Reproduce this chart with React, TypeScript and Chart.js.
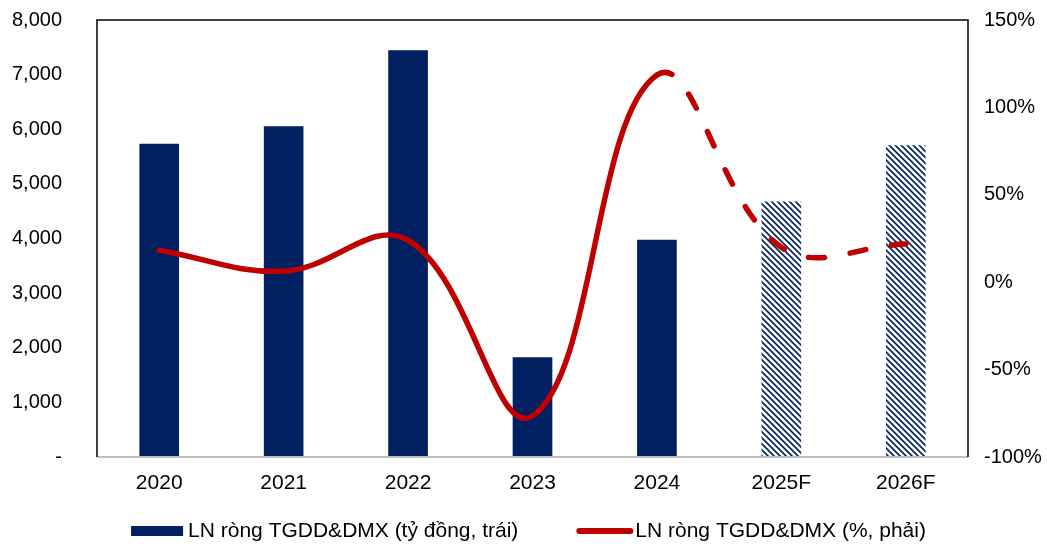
import React, { useEffect, useRef } from "react";
import { Chart, registerables } from "chart.js";

Chart.register(...registerables);

const categories = ["2020", "2021", "2022", "2023", "2024", "2025F", "2026F"];
const profitValues = [5730, 6050, 7440, 1820, 3970, 4670, 5700];
const growthValues = [18.3, 6.3, 24, -76.5, 118.5, 20, 21.8];
const forecastFlags = [false, false, false, false, false, true, true];
const leftTicks = [0, 1000, 2000, 3000, 4000, 5000, 6000, 7000, 8000];
const rightTicks = [-100, -50, 0, 50, 100, 150];
const barLabel = "LN ròng TGDD&DMX (tỷ đồng, trái)";
const lineLabel = "LN ròng TGDD&DMX (%, phải)";

const NAVY = "#002060";
const RED = "#C00000";
const FONT = "'Liberation Sans', Arial, sans-serif";

function makeHatch(): CanvasPattern | string {
  const s = 6;
  const c = document.createElement("canvas");
  c.width = s;
  c.height = s;
  const g = c.getContext("2d");
  if (!g) return NAVY;
  g.fillStyle = "#ffffff";
  g.fillRect(0, 0, s, s);
  g.strokeStyle = NAVY;
  g.lineWidth = 1.6;
  g.beginPath();
  g.moveTo(-1, -1);
  g.lineTo(s + 1, s + 1);
  g.moveTo(-1, s - 1);
  g.lineTo(1, s + 1);
  g.moveTo(s - 1, -1);
  g.lineTo(s + 1, 1);
  g.stroke();
  const p = g.createPattern(c, "repeat");
  return p || NAVY;
}

const framePlugin = {
  id: "frame",
  afterDraw(chart: any) {
    const { ctx, chartArea } = chart;
    const { left, top, right, bottom } = chartArea;
    ctx.save();
    ctx.strokeStyle = "#bfbfbf";
    ctx.lineWidth = 2;
    ctx.beginPath();
    ctx.moveTo(left, bottom);
    ctx.lineTo(right, bottom);
    ctx.stroke();
    ctx.strokeStyle = "#000000";
    ctx.lineWidth = 1.5;
    ctx.beginPath();
    ctx.moveTo(left, bottom);
    ctx.lineTo(left, top);
    ctx.lineTo(right, top);
    ctx.lineTo(right, bottom);
    ctx.stroke();
    ctx.restore();
  },
};

const legendPlugin = {
  id: "customLegend",
  afterDraw(chart: any) {
    const { ctx, chartArea, height } = chart;
    ctx.save();
    ctx.font = `21px ${FONT}`;
    ctx.textBaseline = "middle";
    ctx.textAlign = "left";
    const w1 = ctx.measureText(barLabel).width;
    const w2 = ctx.measureText(lineLabel).width;
    const boxW = 52;
    const lineW = 57;
    const gap = 58;
    const total = boxW + 5 + w1 + gap + lineW + 2 + w2;
    const cx = (chartArea.left + chartArea.right) / 2 - 4;
    let x = cx - total / 2;
    const y = height - 13;
    ctx.fillStyle = NAVY;
    ctx.fillRect(x, y - 5, boxW, 10);
    x += boxW + 5;
    ctx.fillStyle = "#000000";
    ctx.fillText(barLabel, x, y);
    x += w1 + gap;
    ctx.strokeStyle = RED;
    ctx.lineWidth = 6;
    ctx.lineCap = "round";
    ctx.beginPath();
    ctx.moveTo(x + 3, y);
    ctx.lineTo(x + lineW - 3, y);
    ctx.stroke();
    x += lineW + 2;
    ctx.fillStyle = "#000000";
    ctx.fillText(lineLabel, x, y);
    ctx.restore();
  },
};

export default function App() {
  const ref = useRef<HTMLCanvasElement | null>(null);
  useEffect(() => {
    document.body.style.margin = "0";
    if (!ref.current) return;
    const hatch = makeHatch();
    const barColors = forecastFlags.map((f) => (f ? hatch : NAVY));
    const chart = new Chart(ref.current, {
      data: {
        labels: categories,
        datasets: [
          {
            type: "line",
            label: lineLabel,
            data: growthValues,
            yAxisID: "y1",
            borderColor: RED,
            backgroundColor: RED,
            borderWidth: 5.5,
            pointRadius: 0,
            tension: 0.4,
            borderCapStyle: "round",
            segment: {
              borderDash: (ctx: any) => (ctx.p0DataIndex >= 4 ? [16, 26] : undefined),
            },
            order: 0,
          } as any,
          {
            type: "bar",
            label: barLabel,
            data: profitValues,
            yAxisID: "y",
            backgroundColor: barColors as any,
            borderWidth: 0,
            barThickness: 39,
            order: 1,
          } as any,
        ],
      },
      options: {
        animation: false,
        responsive: false,
        maintainAspectRatio: false,
        layout: { padding: { top: 20, right: 0, left: 0, bottom: 48 } },
        plugins: {
          tooltip: { enabled: false },
          legend: { display: false },
        },
        scales: {
          x: {
            grid: { display: false, drawTicks: false },
            border: { display: false },
            afterFit: (axis: any) => {
              axis.height = 39;
            },
            ticks: { color: "#000000", font: { family: FONT, size: 21 }, padding: 14, maxRotation: 0 },
          },
          y: {
            position: "left",
            min: 0,
            max: 8000,
            afterBuildTicks: (axis: any) => {
              axis.ticks = leftTicks.map((v) => ({ value: v }));
            },
            afterFit: (axis: any) => {
              axis.width = 97;
            },
            grid: { display: false, drawTicks: true, tickLength: 31, tickColor: "rgba(0,0,0,0)" },
            border: { display: false },
            ticks: {
              color: "#000000",
              font: { family: FONT, size: 20 },
              padding: 4,
              callback: (v: any) => (Number(v) === 0 ? "-" : Number(v).toLocaleString("en-US")),
            },
          },
          y1: {
            position: "right",
            min: -100,
            max: 150,
            afterBuildTicks: (axis: any) => {
              axis.ticks = rightTicks.map((v) => ({ value: v }));
            },
            afterFit: (axis: any) => {
              axis.width = 79;
            },
            grid: { display: false, drawTicks: true, tickLength: 12, tickColor: "rgba(0,0,0,0)" },
            border: { display: false },
            ticks: {
              color: "#000000",
              font: { family: FONT, size: 20 },
              padding: 4,
              callback: (v: any) => `${v}%`,
            },
          },
        },
      } as any,
      plugins: [framePlugin, legendPlugin],
    });
    return () => chart.destroy();
  }, []);
  return (
    <div style={{ width: 1047, height: 544 }}>
      <canvas ref={ref} width={1047} height={544} style={{ width: 1047, height: 544 }} />
    </div>
  );
}
